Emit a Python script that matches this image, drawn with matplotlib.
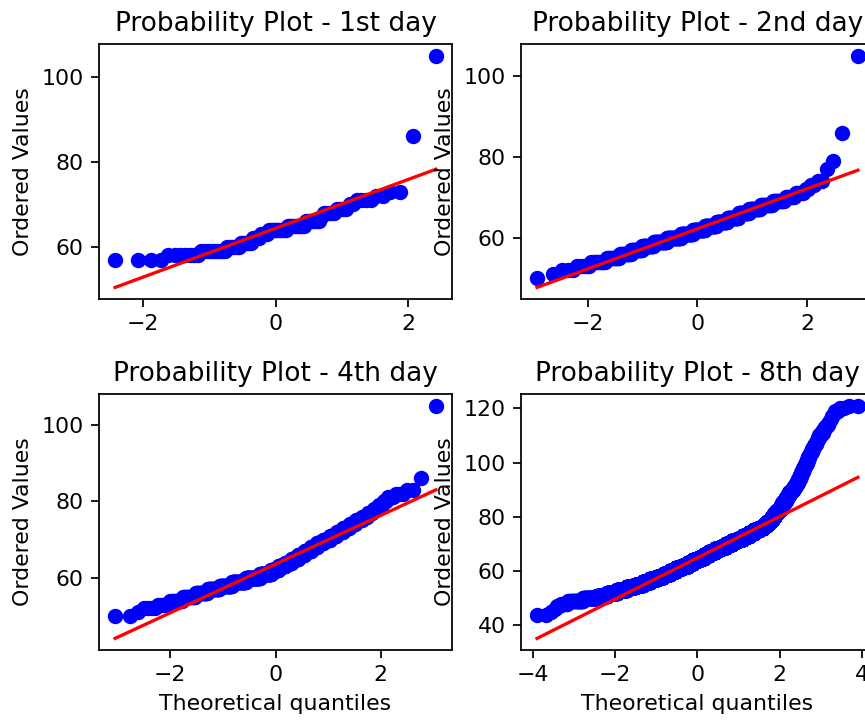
import numpy as np
from statistics import NormalDist
from matplotlib import pyplot as plt

##########
# Normal probability plots (Q-Q) for four days of measurements.
# The ordered values are kept as integer levels plus how often each
# level occurs; the theoretical quantiles come from Filliben's
# order statistic medians, the same way scipy's probplot does it,
# and the red line is the least squares fit through the points.

titles = ['Probability Plot - 1st day', 'Probability Plot - 2nd day',
          'Probability Plot - 4th day', 'Probability Plot - 8th day']

day1_values = [57, 58, 59, 60, 61, 62, 63, 64, 65, 66, 67, 68, 69, 70, 71, 72, 73, 86, 105]
day1_counts = [4, 7, 9, 6, 6, 4, 4, 10, 9, 7, 1, 5, 4, 2, 4, 2, 2, 1, 1]

day2_values = [50, 51, 52, 53, 54, 55, 56, 57, 58, 59, 60, 61, 62, 63, 64,
               65, 66, 67, 68, 69, 70, 71, 72, 73, 74, 77, 79, 86, 105]
day2_counts = [1, 1, 3, 5, 9, 12, 14, 17, 23, 30, 37, 35, 34, 33, 29,
               26, 22, 19, 16, 12, 7, 5, 2, 2, 2, 1, 1, 1, 1]

day4_values = [50, 51, 52, 53, 54, 55, 56, 57, 58, 59, 60, 61, 62, 63, 64, 65, 66, 67,
               68, 69, 70, 71, 72, 73, 74, 75, 76, 77, 78, 79, 80, 81, 82, 83, 86, 105]
day4_counts = [2, 1, 4, 6, 10, 15, 21, 27, 36, 50, 58, 50, 34, 30, 28, 28, 26, 24,
               21, 20, 19, 16, 14, 12, 10, 8, 6, 5, 4, 3, 2, 3, 3, 2, 1, 1]

day8_values = [44, 45, 46, 47, 48, 49, 50, 51, 52, 53, 54, 55, 56,
               57, 58, 59, 60, 61, 62, 63, 64, 65, 66, 67, 68,
               69, 70, 71, 72, 73, 74, 75, 76, 77, 78, 79, 80,
               81, 82, 83, 84, 85, 86, 87, 88, 89, 90, 91, 92,
               93, 94, 95, 96, 97, 98, 99, 100, 101, 102, 103, 104,
               105, 106, 107, 108, 109, 110, 111, 112, 113, 114, 115, 116,
               117, 118, 119, 120, 121]
day8_counts = [2, 1, 1, 2, 5, 27, 64, 98, 159, 241, 312, 373, 471,
               536, 577, 656, 712, 740, 761, 706, 712, 700, 688, 735, 693,
               634, 570, 508, 447, 381, 300, 245, 180, 127, 80, 63, 56,
               51, 46, 37, 28, 25, 24, 24, 23, 22, 19, 17, 12,
               9, 8, 7, 7, 7, 6, 5, 5, 4, 5, 4, 4,
               4, 3, 4, 2, 3, 3, 3, 2, 2, 2, 1, 1,
               1, 1, 2, 2, 2]

days = [(day1_values, day1_counts), (day2_values, day2_counts),
        (day4_values, day4_counts), (day8_values, day8_counts)]


def theoretical_quantiles(n):
    # Filliben's estimate of the uniform order statistic medians
    m = (np.arange(1, n + 1) - 0.3175) / (n + 0.365)
    m[-1] = 0.5 ** (1.0 / n)
    m[0] = 1 - m[-1]
    nd = NormalDist()
    return np.array([nd.inv_cdf(p) for p in m])


DPI = 158
fig = plt.figure(figsize=(865 / DPI, 720 / DPI), dpi=DPI)

# the right column runs past the edge of the picture, as in the original
positions = [[0.1145, 0.5847, 0.408, 0.354],
             [0.6023, 0.5847, 0.408, 0.354],
             [0.1145, 0.0972, 0.408, 0.3556],
             [0.6023, 0.0972, 0.408, 0.3556]]

for i, (values, counts) in enumerate(days):
    ax = fig.add_axes(positions[i])
    y = np.repeat(values, counts).astype(float)
    x = theoretical_quantiles(len(y))
    slope, intercept = np.polyfit(x, y, 1)
    ax.plot(x, y, 'bo')
    ax.plot(x, slope * x + intercept, 'r-')
    ax.set_title(titles[i])
    ax.set_ylabel('Ordered Values')
    if i >= 2:
        ax.set_xlabel('Theoretical quantiles')

fig.savefig('out.png', dpi=DPI)
